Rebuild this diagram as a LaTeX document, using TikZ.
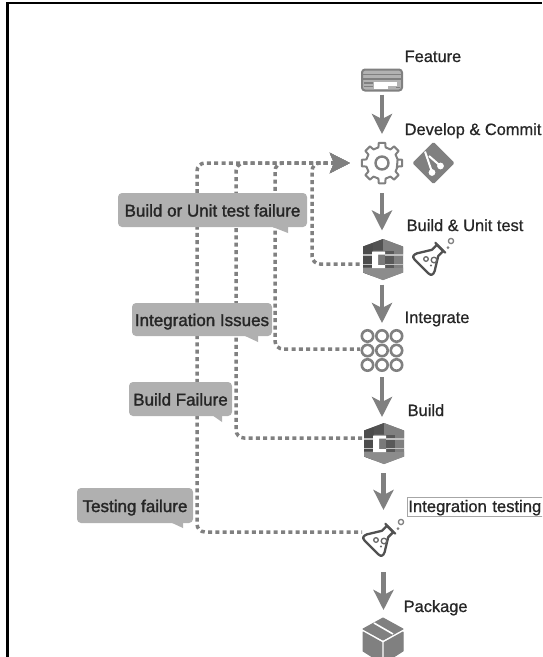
\documentclass[tikz,border=0pt]{standalone}
\usepackage{fontspec}
\setmainfont{Liberation Sans}
\newfontfamily\lblfont[FakeBold=0.8]{Liberation Sans}
\newfontfamily\bubfont[FakeBold=1.6]{Liberation Sans}
\usetikzlibrary{arrows.meta}
\definecolor{flow}{HTML}{808080}
\definecolor{ink}{HTML}{262626}
\definecolor{bub}{HTML}{B0B0B0}
\tikzset{
  x=1pt,y=-1pt,
  iconbox/.style={inner sep=0pt,outer sep=0pt,minimum width=42pt,minimum height=42pt},
  lbl/.style={inner sep=0pt,anchor=base west,text=ink,font=\lblfont\fontsize{16.4}{18}\selectfont},
  bubble/.style={fill=bub,rounded corners=4pt,inner sep=0pt,text=ink,font=\bubfont\fontsize{17}{18}\selectfont,text depth=0pt,text height=13pt},
  flowarrow/.style={draw=flow,line width=4.5pt,-{Stealth[length=20pt,width=20pt,inset=5pt]}},
  loopline/.style={draw=flow,line width=3.5pt,dash pattern=on 4pt off 3.3pt,rounded corners=8pt,{Stealth[length=20pt,width=20pt,inset=4pt]}-,shorten <=11pt},
  pics/gear/.style={code={
    \draw[flow,line width=2pt,fill=white,line join=round]
      (22.5:16)
      \foreach \a in {0,45,...,315}{
        -- (\a-13:16) -- (\a-9:20.5) -- (\a+9:20.5) -- (\a+13:16) arc[start angle=\a+13,end angle=\a+32,radius=16]
      } -- cycle;
    \draw[flow,line width=2.4pt] (0,0) circle[radius=6.5];
  }},
  pics/flask/.style={code={
    \begin{scope}[shift={(-2.75,-0.75)},rotate=-45]
      \draw[ink!80,line width=2.3pt,fill=white,line join=round]
        (-4.5,-13) -- (-4.5,-6) -- (-12.5,7)
        .. controls (-14.5,11) and (-13,13) .. (-10,13) -- (10,13)
        .. controls (13,13) and (14.5,11) .. (12.5,7) -- (4.5,-6) -- (4.5,-13) -- cycle;
      \draw[ink!80,line width=2.3pt,line cap=round] (-7,-13.5) -- (7,-13.5);
    \end{scope}
    \draw[ink!70,line width=1.3pt] (-7.5,1) circle[radius=2.3] (0.5,2) circle[radius=2.8];
    \fill[ink!70] (-2.5,7.5) circle[radius=1.2];
    \draw[flow,line width=1.3pt] (17.5,-17) circle[radius=2.6];
    \fill[flow] (14.5,-10.5) circle[radius=1.5];
  }},
  pics/codebuild/.style={code={
    \fill[black!52] (-20,-13) -- (0,-20.5) -- (20,-13) -- (20,13) -- (0,20.5) -- (-20,13) -- cycle;
    \fill[black!70] (-20,-13) -- (-10,-16.7) -- (-10,16.7) -- (-20,13) -- cycle;
    \fill[black!68] (-10,-16.7) -- (0,-20.5) -- (0,-9) -- (-10,-9) -- cycle;
    \fill[black!50] (0,-20.5) -- (20,-13) -- (20,-6) -- (0,-9) -- cycle;
    \fill[black!45] (-20,13) -- (0,20.5) -- (20,13) -- (20,8) -- (-20,8) -- cycle;
    \fill[black!65] (2,-9) rectangle (11,8);
    \fill[black!50] (11,-9) rectangle (20,8);
    \fill[white] (-11,-8) -- (2,-8) -- (2,-5) -- (-5,-5) -- (-5,5.5) -- (2,5.5) -- (2,8.5) -- (-11,8.5) -- cycle;
    \fill[black!25] (-20,-5.5) rectangle (-11,-4);
    \fill[black!25] (-20,4) rectangle (-11,5.5);
    \fill[black!25] (2,-5.5) rectangle (20,-4);
    \fill[black!25] (2,4) rectangle (20,5.5);
  }},
  pics/ringgrid/.style={code={
    \foreach \i in {-14.5,0,14.5}\foreach \j in {-14.5,0,14.5}
      \draw[flow,line width=2.6pt] (\i,\j) circle[radius=5.7];
  }},
  pics/boxicon/.style={code={
    \fill[flow,line join=round,draw=flow,line width=1pt] (0,-21) -- (20,-10) -- (0,1) -- (-20,-10) -- cycle;
    \fill[flow,draw=flow,line width=1pt,line join=round] (-20,-7) -- (-1.2,3.5) -- (-1.2,24) -- (-20,12) -- cycle;
    \fill[flow,draw=flow,line width=1pt,line join=round] (20,-7) -- (1.2,3.5) -- (1.2,24) -- (20,12) -- cycle;
    \draw[white,line width=1.6pt] (-9,-16) -- (10,-5);
  }},
  pics/cardicon/.style={code={
    \draw[flow,fill=black!30,line width=2pt,rounded corners=3pt] (-20,-10.5) rectangle (20,10.5);
    \draw[flow,line width=1.6pt] (-19,-5.5) -- (19,-5.5) (-19,-1) -- (19,-1);
    \fill[white] (-8,2) -- (15,2) -- (15,6) -- (-8,6) -- cycle;
    \fill[white] (-8,5) rectangle (6,8.5);
    \draw[flow,line width=1.2pt] (-18,3) -- (-9,3) (-18,6.5) -- (-9,6.5) (14,7.5) -- (18,7.5);
  }},
  pics/giticon/.style={code={
    \fill[flow,draw=flow,line width=3pt,line join=round] (0,-19) -- (19,0) -- (0,19) -- (-19,0) -- cycle;
    \draw[white,line width=2pt] (-8.5,-11.5) -- (-1.5,9);
    \draw[white,line width=2pt] (-4.5,-7) -- (7,3);
    \fill[white] (-1.5,9.5) circle[radius=3.4] (7,3) circle[radius=3.4];
  }},
}
\begin{document}
\begin{tikzpicture}
\clip (0,0) rectangle (542,657);
\fill[white] (0,0) rectangle (542,657);
\coordinate (frameA) at (7.3,657);
\coordinate (frameB) at (7.3,3);
\coordinate (frameC) at (542,3);
\draw[black,line width=2.6pt,line join=miter] (frameA) -- (frameB) -- (frameC);
\node[iconbox,minimum height=24pt] (feature) at (382,80) {};
\node[iconbox] (gear) at (382,163) {};
\node[iconbox] (git) at (433.5,163) {};
\node[iconbox] (unit) at (383,259.5) {};
\node[iconbox] (utest) at (433.5,258) {};
\node[iconbox] (rings) at (382,350.5) {};
\node[iconbox] (build) at (384,443.5) {};
\node[iconbox] (itest) at (383.5,539) {};
\node[iconbox] (pack) at (383,639) {};
\pic at (feature) {cardicon};
\pic at (gear) {gear};
\pic at (git) {giticon};
\pic at (unit) {codebuild};
\pic at (utest) {flask};
\pic at (rings) {ringgrid};
\pic at (build) {codebuild};
\pic at (itest) {flask};
\pic at (pack) {boxicon};
\coordinate (l1) at (312,264);
\coordinate (l2) at (275,349);
\coordinate (l3) at (236,438);
\coordinate (l4) at (197,532);
\coordinate (t1) at (361,264);
\coordinate (t2) at (360,349);
\coordinate (t3) at (362,438);
\coordinate (t4) at (362,532);
\draw[loopline] (gear.west) -| (l4) -- (t4);
\draw[loopline] (gear.west) -| (l3) -- (t3);
\draw[loopline] (gear.west) -| (l2) -- (t2);
\draw[loopline] (gear.west) -| (l1) -- (t1);
\draw[flowarrow,shorten <=2.5pt,shorten >=8pt] (feature.south) -- (gear.north);
\draw[flowarrow,shorten <=9pt,shorten >=8pt] (gear.south) -- (unit.north -| gear.south);
\draw[flowarrow,shorten <=4pt,shorten >=6.5pt] (unit.south -| gear.south) -- (rings.north);
\draw[flowarrow,shorten <=5.5pt,shorten >=5.5pt] (rings.south) -- (build.north -| rings.south);
\draw[flowarrow,shorten <=8.5pt,shorten >=8pt] (build.south -| itest.north) -- (itest.north);
\draw[flowarrow,shorten <=12pt,shorten >=8pt] (itest.south) -- (pack.north -| itest.south);
\node[lbl] (lfeature) at (404.5,62) {Feature};
\node[lbl] (ldev) at (404.5,135) {Develop \& Commit};
\node[lbl] (lunit) at (406.5,231) {Build \& Unit test};
\node[lbl] (lint) at (404.5,323) {Integrate};
\node[lbl] (lbuild) at (407.5,416) {Build};
\node[lbl,draw=black!35,line width=0.8pt,inner xsep=1pt,text height=15pt,text depth=4pt,text width=134pt,align=left,fill=white,font=\lblfont\fontsize{16.6}{18}\selectfont] (ltest) at (407,512) {Integration testing};
\node[lbl] (lpack) at (403.5,612) {Package};
\node[bubble,minimum width=189pt,minimum height=34pt] (b1) at (212.5,210) {Build or Unit test failure};
\fill[bub] (270,226) -- (288,226) -- (288,233) -- cycle;
\node[bubble,minimum width=140pt,minimum height=33pt] (b2) at (202,319.5) {Integration Issues};
\fill[bub] (243,335) -- (258,335) -- (258,342) -- cycle;
\node[bubble,minimum width=103pt,minimum height=34pt] (b3) at (180.5,399) {Build Failure};
\fill[bub] (212,415) -- (222,415) -- (222,422) -- cycle;
\node[bubble,minimum width=116pt,minimum height=35pt] (b4) at (135,505.5) {Testing failure};
\fill[bub] (170,522) -- (183,522) -- (183,528) -- cycle;
\end{tikzpicture}
\end{document}
